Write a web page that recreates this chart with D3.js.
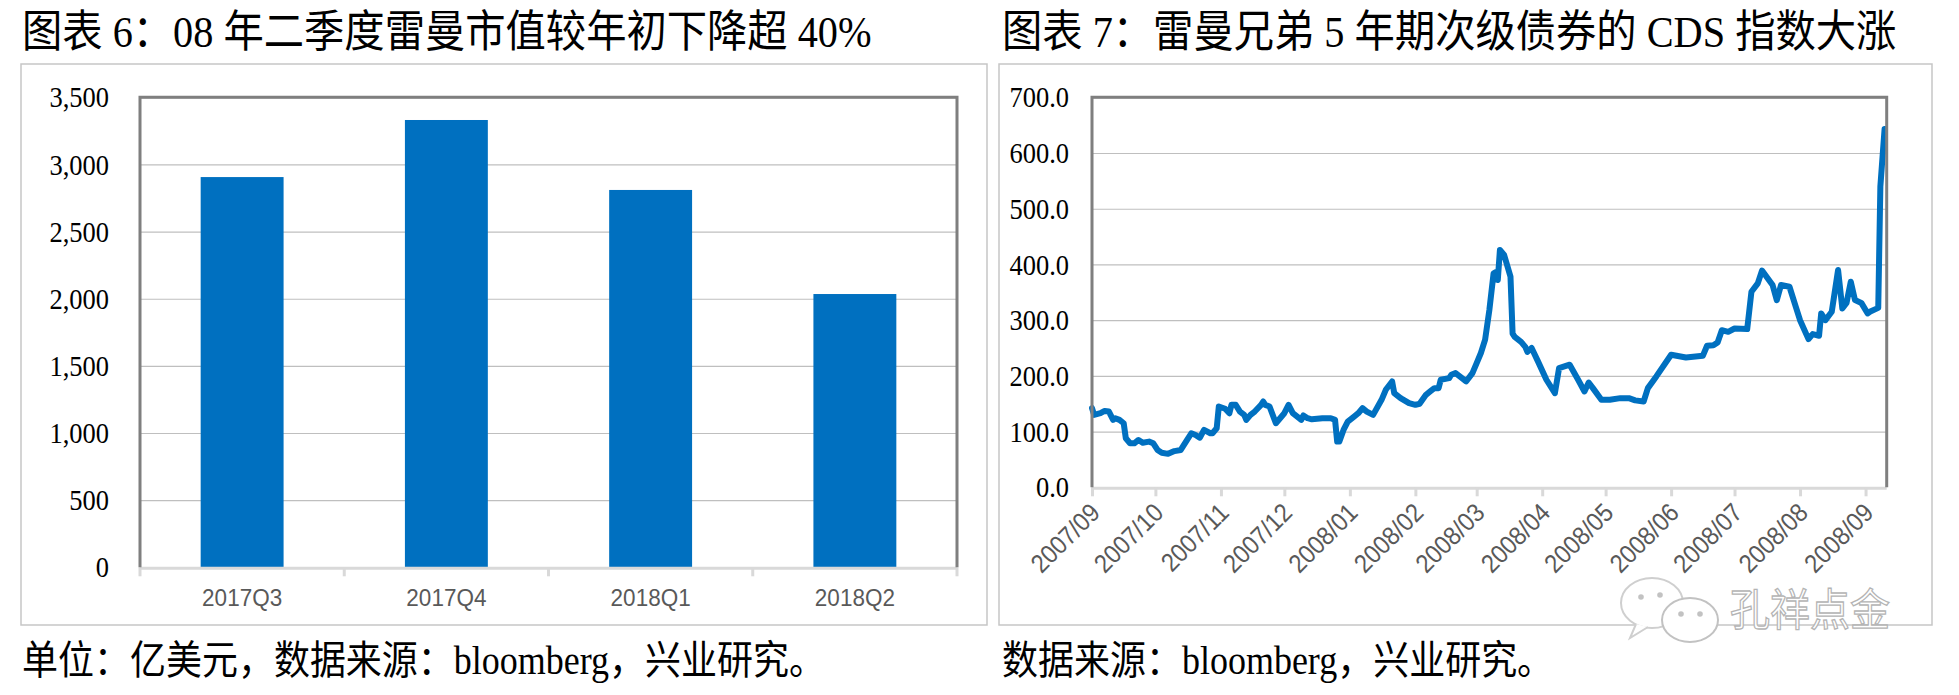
<!DOCTYPE html>
<html><head><meta charset="utf-8">
<script src="https://cdn.jsdelivr.net/npm/d3@7"></script>
<style>body{margin:0;background:#fff;} svg{display:block}</style>
</head><body>
<svg id="c" width="1959" height="695"></svg>
<script>
// ---------- data ----------
const barCategories = ["2017Q3", "2017Q4", "2018Q1", "2018Q2"];
const barValues = [2906, 3331, 2810, 2035];
const barTicks = [0, 500, 1000, 1500, 2000, 2500, 3000, 3500];

const cdsTicks = [0, 100, 200, 300, 400, 500, 600, 700];
const cdsDates = [
 "2007-09-01","2007-09-02","2007-09-05","2007-09-07","2007-09-09","2007-09-11","2007-09-12","2007-09-14","2007-09-16","2007-09-17",
 "2007-09-19","2007-09-21","2007-09-23","2007-09-25","2007-09-28","2007-09-30","2007-10-02","2007-10-04","2007-10-07","2007-10-10",
 "2007-10-13","2007-10-16","2007-10-18","2007-10-20","2007-10-22","2007-10-24","2007-10-27","2007-10-28","2007-10-30","2007-10-31",
 "2007-11-03","2007-11-05","2007-11-06","2007-11-08","2007-11-10","2007-11-12","2007-11-13","2007-11-15","2007-11-17","2007-11-20",
 "2007-11-21","2007-11-22","2007-11-24","2007-11-27","2007-11-29","2007-12-01","2007-12-03","2007-12-05","2007-12-08","2007-12-09",
 "2007-12-10","2007-12-12","2007-12-14","2007-12-19","2007-12-23","2007-12-25","2007-12-26","2007-12-27","2007-12-29","2007-12-31",
 "2008-01-03","2008-01-05","2008-01-07","2008-01-09","2008-01-12","2008-01-16","2008-01-18","2008-01-21","2008-01-22","2008-01-25",
 "2008-01-29","2008-02-01","2008-02-03","2008-02-06","2008-02-08","2008-02-10","2008-02-12","2008-02-13","2008-02-17","2008-02-18",
 "2008-02-20","2008-02-22","2008-02-25","2008-02-28","2008-03-01","2008-03-03","2008-03-05","2008-03-07","2008-03-09","2008-03-10",
 "2008-03-11","2008-03-12","2008-03-14","2008-03-17","2008-03-18","2008-03-19","2008-03-22","2008-03-24","2008-03-25","2008-03-27",
 "2008-03-30","2008-04-03","2008-04-07","2008-04-09","2008-04-14","2008-04-18","2008-04-21","2008-04-23","2008-04-25","2008-04-29",
 "2008-05-03","2008-05-08","2008-05-12","2008-05-15","2008-05-19","2008-05-21","2008-05-25","2008-06-01","2008-06-08","2008-06-16",
 "2008-06-18","2008-06-21","2008-06-23","2008-06-25","2008-06-28","2008-07-01","2008-07-07","2008-07-09","2008-07-12","2008-07-14",
 "2008-07-19","2008-07-21","2008-07-23","2008-07-27","2008-07-30","2008-08-01","2008-08-05","2008-08-07","2008-08-10","2008-08-11",
 "2008-08-13","2008-08-16","2008-08-19","2008-08-21","2008-08-23","2008-08-25","2008-08-27","2008-08-30","2008-09-02","2008-09-03",
 "2008-09-07","2008-09-08","2008-09-10"
];
const cdsValues = [
 142,130,133,137,136,121,124,121,115,88,
 79,79,85,80,82,79,67,62,60,65,
 67,85,97,94,89,103,97,97,106,145,
 141,133,148,148,136,130,121,130,136,148,
 154,148,145,115,124,133,148,133,124,121,
 129,124,122,124,124,121,82,82,103,118,
 127,133,142,136,130,157,175,190,169,160,
 151,148,150,166,172,178,178,193,196,202,
 205,199,190,205,223,241,265,318,384,386,
 372,426,417,378,276,270,261,252,243,250,
 226,193,169,214,220,193,172,188,178,157,
 157,160,160,156,154,178,199,238,233,236,
 254,255,260,282,279,285,284,351,366,389,
 363,336,363,360,324,300,266,275,272,312,
 300,315,390,321,331,369,336,331,312,315,
 322,540,643
];

// ---------- setup ----------
const svg = d3.select("#c");
svg.append("rect").attr("width",1959).attr("height",695).attr("fill","#fff");
const serif = "'Liberation Serif','Times New Roman','Noto Sans CJK SC',serif";
const sans = "'Liberation Sans',Arial,sans-serif";
const blue = "#0070C0";
const SY = 1.1; // reference text is slightly tall

function label(x, y, size, txt) {
  svg.append("text").attr("transform",`translate(${x},${y}) scale(1,${SY})`)
    .attr("font-family",serif).attr("font-size",size).attr("fill","#000").text(txt);
}
label(22, 47, 40.3, "图表 6：08 年二季度雷曼市值较年初下降超 40%");
label(1002, 47, 40.3, "图表 7：雷曼兄弟 5 年期次级债券的 CDS 指数大涨");
label(22, 674, 36, "单位：亿美元，数据来源：bloomberg，兴业研究。");
label(1002, 674, 36, "数据来源：bloomberg，兴业研究。");

// outer boxes
svg.append("rect").attr("x",21).attr("y",64).attr("width",966).attr("height",561)
  .attr("fill","none").attr("stroke","#c6c6c6").attr("stroke-width",1.5);
svg.append("rect").attr("x",999).attr("y",64).attr("width",933).attr("height",561)
  .attr("fill","none").attr("stroke","#c6c6c6").attr("stroke-width",1.5);

// ---------- left: bar chart ----------
{
  const L = 140, R = 957, T = 97.3, B = 567.3;
  const x = d3.scaleBand().domain(barCategories).range([L, R]).paddingInner(0.594).paddingOuter(0.297);
  const xc = d3.scaleBand().domain(barCategories).range([L, R]).padding(0);
  const y = d3.scaleLinear().domain([0, 3500]).range([B, T]);
  const g = svg.append("g");
  g.append("g").attr("transform",`translate(${L},0)`)
    .call(d3.axisLeft(y).tickValues(barTicks.slice(1)).tickSize(-(R-L)).tickFormat(""))
    .call(s => { s.select(".domain").remove(); s.selectAll("line").attr("stroke","#bfbfbf").attr("stroke-width",1.2); });
  g.selectAll("rect.bar").data(barValues).join("rect").attr("class","bar")
    .attr("x",(d,i)=>x(barCategories[i])).attr("width",x.bandwidth())
    .attr("y",d=>y(d)).attr("height",d=>B-y(d)).attr("fill",blue);
  g.append("g").attr("transform",`translate(109,0)`)
    .call(d3.axisLeft(y).tickValues(barTicks).tickSize(0).tickPadding(0).tickFormat(d3.format(",")))
    .call(s => { s.select(".domain").remove();
      s.selectAll("text").attr("font-family",serif).attr("font-size",26.5).attr("fill","#000")
        .attr("x",0).attr("dy","0.33em").attr("transform",`scale(1,${SY})`); });
  const bounds = barCategories.map(c=>xc(c)).concat([R]);
  g.append("line").attr("x1",L).attr("x2",R).attr("y1",B+1).attr("y2",B+1).attr("stroke","#d9d9d9").attr("stroke-width",3);
  g.selectAll("line.tk").data(bounds).join("line").attr("class","tk")
    .attr("x1",d=>d).attr("x2",d=>d).attr("y1",B).attr("y2",B+9).attr("stroke","#d9d9d9").attr("stroke-width",3);
  g.append("g").attr("transform",`translate(0,${B})`)
    .call(d3.axisBottom(xc).tickSize(0).tickPadding(0))
    .call(s => { s.select(".domain").remove();
      s.selectAll("text").attr("font-family",sans).attr("font-size",22.5).attr("fill","#595959")
        .attr("dy",null).attr("y",0).attr("transform",`translate(0,39) scale(1,${SY})`); });
  g.append("path").attr("d",`M${L},${B}V${T}H${R}V${B}`).attr("fill","none").attr("stroke","#7f7f7f").attr("stroke-width",3);
}

// ---------- right: line chart ----------
{
  const L = 1092, R = 1886.7, T = 97.3, B = 487.3;
  const parse = d3.utcParse("%Y-%m-%d");
  const x = d3.scaleUtc().domain([Date.UTC(2007,8,1), Date.UTC(2008,8,11)]).range([L, R]);
  const y = d3.scaleLinear().domain([0, 700]).range([B, T]);
  const g = svg.append("g");
  g.append("g").attr("transform",`translate(${L},0)`)
    .call(d3.axisLeft(y).tickValues(cdsTicks.slice(1)).tickSize(-(R-L)).tickFormat(""))
    .call(s => { s.select(".domain").remove(); s.selectAll("line").attr("stroke","#bfbfbf").attr("stroke-width",1.2); });
  g.append("g").attr("transform",`translate(1069,0)`)
    .call(d3.axisLeft(y).tickValues(cdsTicks).tickSize(0).tickPadding(0).tickFormat(d3.format(".1f")))
    .call(s => { s.select(".domain").remove();
      s.selectAll("text").attr("font-family",serif).attr("font-size",26.5).attr("fill","#000")
        .attr("x",0).attr("dy","0.33em").attr("transform",`scale(1,${SY})`); });
  const months = d3.utcMonth.range(Date.UTC(2007,8,1), Date.UTC(2008,8,2));
  g.append("line").attr("x1",L).attr("x2",R).attr("y1",B+1).attr("y2",B+1).attr("stroke","#d9d9d9").attr("stroke-width",3);
  g.append("g").attr("transform",`translate(0,${B})`)
    .call(d3.axisBottom(x).tickValues(months).tickSize(9).tickPadding(0).tickFormat(d3.utcFormat("%Y/%m")))
    .call(s => { s.select(".domain").remove();
      s.selectAll("line").attr("stroke","#d9d9d9").attr("stroke-width",3);
      s.selectAll("text").attr("font-family",sans).attr("font-size",23.5).attr("fill","#595959")
        .attr("text-anchor","end").attr("dy",null).attr("y",0)
        .attr("transform",`translate(9,27) rotate(-45) scale(1,${SY})`); });
  const pts = cdsDates.map((d,i)=>({d:parse(d), v:cdsValues[i]}));
  g.append("path").datum(pts)
    .attr("d", d3.line().x(p=>x(p.d)).y(p=>y(p.v)))
    .attr("fill","none").attr("stroke",blue).attr("stroke-width",6)
    .attr("stroke-linejoin","round").attr("stroke-linecap","round");
  g.append("path").attr("d",`M${L},${B}V${T}H${R}V${B}`).attr("fill","none").attr("stroke","#7f7f7f").attr("stroke-width",3);
}

// watermark
{
  const w = svg.append("g");
  w.append("ellipse").attr("cx",1652).attr("cy",603).attr("rx",31).attr("ry",25).attr("fill","#fff").attr("stroke","#cfcfcf").attr("stroke-width",2);
  w.append("path").attr("d","M1636,624 L1630,638 L1648,627").attr("fill","#fff").attr("stroke","#cfcfcf").attr("stroke-width",2);
  w.append("ellipse").attr("cx",1690).attr("cy",620).attr("rx",28).attr("ry",22).attr("fill","#fff").attr("stroke","#c2c2c2").attr("stroke-width",2);
  [[1641,597],[1660,595],[1681,614],[1700,614]].forEach(p=>w.append("circle").attr("cx",p[0]).attr("cy",p[1]).attr("r",2.8).attr("fill","#c2c2c2"));
  w.append("text").attr("transform",`translate(1730,626) scale(1,${SY})`).attr("font-family","'Noto Sans CJK SC',sans-serif").attr("font-size",40)
    .attr("fill","#fff").attr("stroke","#b4b4b4").attr("stroke-width",1.2).text("孔祥点金");
}
</script>
</body></html>
